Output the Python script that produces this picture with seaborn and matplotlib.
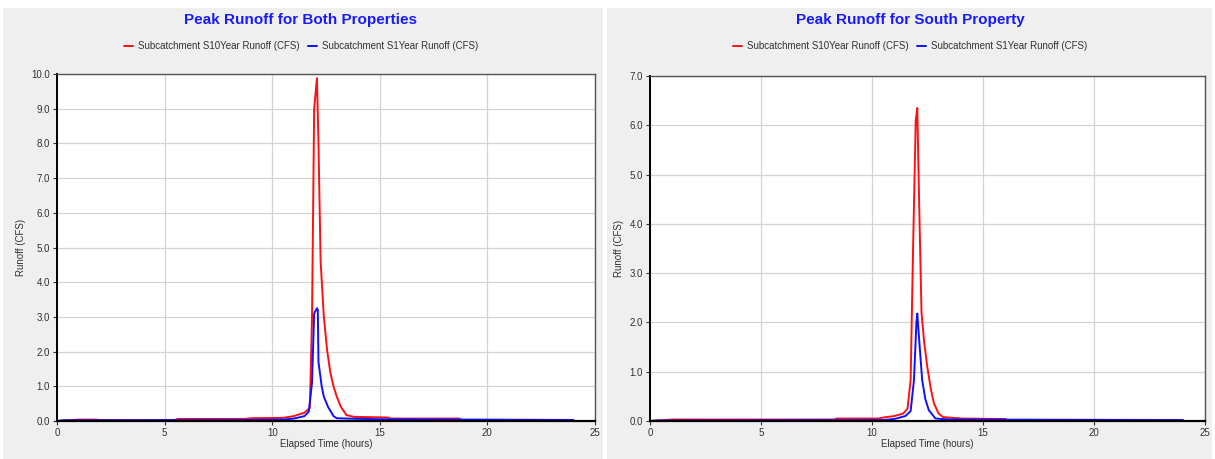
import numpy as np
import pandas as pd
import matplotlib
matplotlib.use('Agg')
import matplotlib.pyplot as plt
from matplotlib.patches import Rectangle
import seaborn as sns

sns.set_theme(style='whitegrid')
plt.rcParams['font.family'] = ['Liberation Sans', 'DejaVu Sans']

# Both properties - 10 year storm
both_t10 = [0.0, 1.0, 1.8, 2.0, 5.5, 5.6, 8.8, 9.0, 10.5, 11.0, 11.5, 11.75, 11.85, 11.95, 12.08,
            12.15, 12.25, 12.4, 12.55, 12.7, 12.85, 13.0, 13.2, 13.45, 13.8, 15.4, 15.5, 18.7, 18.8, 24.0]
both_q10 = [0.0, 0.04, 0.04, 0.03, 0.03, 0.06, 0.06, 0.08, 0.09, 0.14, 0.24, 0.38, 3.0, 9.0, 9.88,
            8.0, 4.6, 3.0, 2.05, 1.4, 1.0, 0.7, 0.4, 0.17, 0.12, 0.1, 0.07, 0.07, 0.02, 0.02]
# Both properties - 1 year storm
both_t1 = [0.0, 0.3, 9.0, 10.5, 11.0, 11.5, 11.7, 11.85, 11.95, 12.08, 12.12, 12.15, 12.3, 12.4,
           12.6, 12.85, 13.0, 13.5, 15.0, 24.0]
both_q1 = [0.0, 0.02, 0.03, 0.04, 0.07, 0.14, 0.27, 1.1, 3.1, 3.25, 3.2, 1.7, 1.0, 0.7,
           0.4, 0.14, 0.08, 0.07, 0.05, 0.03]

# South property - 10 year storm
south_t10 = [0.0, 1.0, 8.3, 8.4, 10.3, 10.5, 11.0, 11.4, 11.6, 11.74, 11.85, 11.97, 12.04, 12.12,
             12.23, 12.35, 12.49, 12.65, 12.79, 13.0, 13.2, 14.0, 16.0, 16.1, 24.0]
south_q10 = [0.0, 0.03, 0.03, 0.05, 0.05, 0.07, 0.1, 0.15, 0.25, 0.83, 3.5, 6.1, 6.35, 4.5,
             2.2, 1.6, 1.1, 0.65, 0.36, 0.15, 0.08, 0.05, 0.04, 0.02, 0.02]
# South property - 1 year storm
south_t1 = [0.0, 0.3, 10.5, 11.0, 11.5, 11.74, 11.89, 12.0, 12.04, 12.1, 12.26, 12.4, 12.56,
            12.86, 13.5, 24.0]
south_q1 = [0.0, 0.01, 0.02, 0.04, 0.1, 0.2, 0.83, 2.0, 2.18, 1.8, 0.83, 0.45, 0.22,
            0.05, 0.03, 0.02]

titles = ['Peak Runoff for Both Properties', 'Peak Runoff for South Property']
lab10 = 'Subcatchment S10Year Runoff (CFS)'
lab1 = 'Subcatchment S1Year Runoff (CFS)'
ymax = [10, 7]

W, H = 1215, 459
fig = plt.figure(figsize=(W / 100, H / 100), dpi=100, facecolor='white')

# grey panel backgrounds
for x0, x1 in [(3, 603), (607, 1212)]:
    fig.patches.append(Rectangle((x0 / W, 0), (x1 - x0) / W, (H - 8) / H,
                                 transform=fig.transFigure, facecolor='#efefef',
                                 edgecolor='none', zorder=-10))

ax1 = fig.add_axes([57 / W, (H - 421) / H, 538 / W, 347 / H])
ax2 = fig.add_axes([650 / W, (H - 421) / H, 555 / W, 345 / H])

data = [(both_t10, both_q10, both_t1, both_q1), (south_t10, south_q10, south_t1, south_q1)]
centers = [301, 910]

for i, ax in enumerate([ax1, ax2]):
    t10, q10, t1, q1 = data[i]
    sns.lineplot(x=t10, y=q10, ax=ax, color='#ff1010', linewidth=1.4, label=lab10)
    sns.lineplot(x=t1, y=q1, ax=ax, color='#1010ff', linewidth=1.4, label=lab1)
    ax.set_xlim(0, 25)
    ax.set_ylim(0, ymax[i])
    ax.set_xticks(range(0, 26, 5))
    ax.set_yticks(np.arange(0, ymax[i] + 0.5, 1.0))
    ax.set_yticklabels(['%.1f' % v for v in np.arange(0, ymax[i] + 0.5, 1.0)])
    ax.set_facecolor('white')
    ax.grid(True, color='#d4d4d4', linewidth=0.9)
    for s in ax.spines.values():
        s.set_color('#555555')
        s.set_linewidth(1.0)
    ax.spines['bottom'].set_color('black')
    ax.spines['bottom'].set_linewidth(1.6)
    ax.spines['left'].set_color('black')
    ax.spines['left'].set_linewidth(1.4)
    ax.tick_params(axis='both', labelsize=7, colors='#333333', length=3, width=0.8,
                   direction='out', pad=2, bottom=True, left=True)
    ax.set_xlabel('Elapsed Time (hours)', fontsize=7, color='#333333', labelpad=1)
    ax.set_ylabel('Runoff (CFS)', fontsize=7, color='#333333', labelpad=4)
    ax.get_legend().remove()
    fig.text(centers[i] / W, 1 - 20 / H, titles[i], ha='center', va='center',
             fontsize=11, fontweight='bold', color='#1a1aff')
    handles, labels = ax.get_legend_handles_labels()
    fig.legend(handles, labels, loc='center', bbox_to_anchor=(centers[i] / W, 1 - 46 / H),
               ncol=2, frameon=False, fontsize=7, handlelength=1.0, handletextpad=0.5,
               columnspacing=0.8, labelcolor='#333333')

fig.savefig('out.png', dpi=100, facecolor='white')
